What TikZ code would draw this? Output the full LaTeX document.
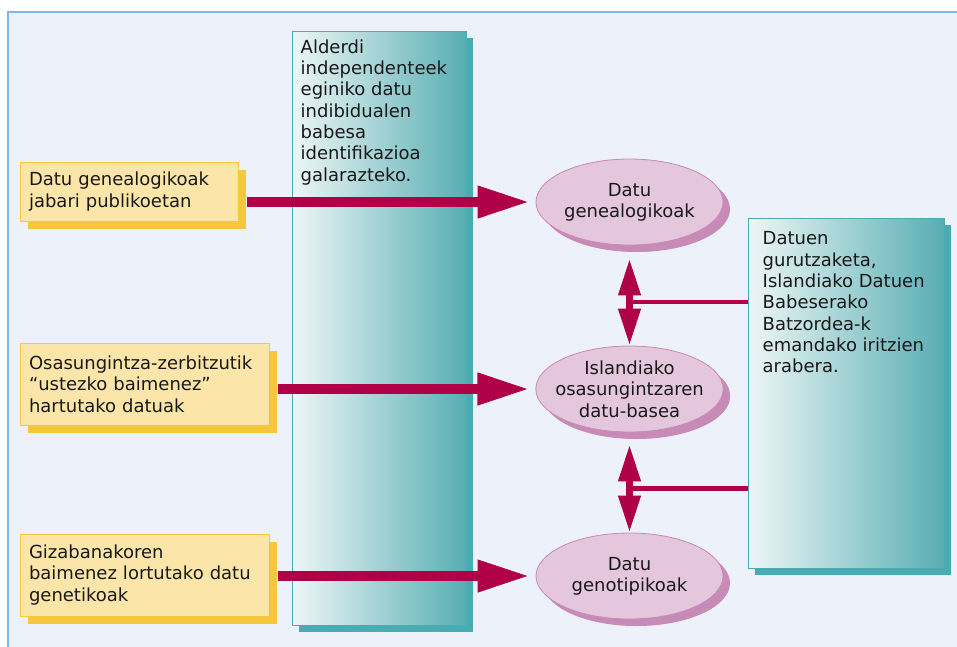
\documentclass[tikz,border=0pt]{standalone}
\usepackage{fontspec}
\setmainfont{DejaVu Sans}
\usepackage{tikz}
\usetikzlibrary{shapes.geometric, arrows.meta, shadows}
\definecolor{canvas}{RGB}{237,242,250}
\definecolor{frameblue}{RGB}{125,182,232}
\definecolor{crimson}{RGB}{176,0,72}
\definecolor{sand}{RGB}{252,229,168}
\definecolor{gold}{RGB}{245,200,60}
\definecolor{mauve}{RGB}{228,198,221}
\definecolor{mauvedark}{RGB}{200,138,182}
\definecolor{tealpale}{RGB}{238,246,246}
\definecolor{tealmid}{RGB}{172,214,216}
\definecolor{tealdark}{RGB}{88,174,179}
\definecolor{tealedge}{RGB}{72,172,178}
\definecolor{ink}{RGB}{25,25,25}
\tikzset{
    txt/.style={font=\fontsize{18}{21.3}\selectfont, text=ink},
    source/.style={rectangle, draw=gold, line width=1pt, fill=sand, inner xsep=9pt, inner ysep=0pt, align=left, txt, drop shadow={shadow xshift=8pt, shadow yshift=-8pt, fill=gold, opacity=1}},
    panel/.style={rectangle, draw=tealedge, line width=1pt, left color=tealpale, middle color=tealmid, right color=tealdark, inner sep=0pt, drop shadow={shadow xshift=7pt, shadow yshift=-7pt, fill=tealedge, opacity=1}},
    note/.style={anchor=north west, inner sep=0pt, align=left, txt},
    store/.style={ellipse, draw=mauvedark, line width=0.8pt, fill=mauve, minimum width=187pt, minimum height=86pt, inner sep=-8pt, align=center, txt, drop shadow={shadow xshift=7pt, shadow yshift=-7pt, fill=mauvedark, opacity=1}},
    bar/.style={line width=10pt, draw=crimson, -{Triangle[length=52pt, width=30pt]}, shorten <=8pt, shorten >=6pt},
    dbl/.style={line width=7pt, draw=crimson, {Triangle[length=37pt, width=21pt]}-{Triangle[length=37pt, width=21pt]}},
    link/.style={line width=4.5pt, draw=crimson}
}

\begin{document}
\begin{tikzpicture}[x=1pt, y=-1pt]
    \useasboundingbox (0,0) rectangle (957,646);
    \fill[white] (0,0) rectangle (957,646);
    \draw[fill=canvas, draw=frameblue, line width=1.2pt] (8,12) rectangle (975,660);

    % Protection panel
    \node[panel, minimum width=174pt, minimum height=594pt] (indep) at (379,328) {};
    \node[note] (indeptxt) at ([xshift=9pt, yshift=-9pt]indep.north west) {%
        Alderdi\\ independenteek\\ eginiko datu\\ indibidualen\\ babesa\\ identifikazioa\\ galarazteko.};

    % Data sources
    \node[source, text width=200pt, minimum height=59pt] (b1) at (129,191.5) {Datu genealogikoak\\ jabari publikoetan};
    \node[source, text width=231pt, minimum height=82pt] (b2) at (144.5,384) {Osasungintza-zerbitzutik\\ “ustezko baimenez”\\ hartutako datuak};
    \node[source, text width=231pt, minimum height=82pt] (b3) at (144.5,575) {Gizabanakoren\\ baimenez lortutako datu\\ genetikoak};

    % Cross-check panel
    \node[panel, minimum width=196pt, minimum height=350pt] (crit) at (846,393) {};
    \node[note] (crittxt) at ([xshift=15pt, yshift=-14pt]crit.north west) {%
        Datuen\\ gurutzaketa,\\ Islandiako Datuen\\ Babeserako\\ Batzordea-k\\ emandako iritzien\\ arabera.};

    % Databases
    \node[store] (e1) at (629.5,202) {Datu\\ genealogikoak};
    \node[store] (e2) at (629.5,389) {Islandiako\\ osasungintzaren\\ datu-basea};
    \node[store] (e3) at (629.5,576) {Datu\\ genotipikoak};

    % Flows
    \draw[bar] (b1.east |- e1) -- (e1.west);
    \draw[bar] (b2.east |- e2) -- (e2.west);
    \draw[bar] (b3.east |- e3) -- (e3.west);

    \draw[dbl] ([yshift=-13pt]e1.south) -- coordinate[midway] (m1) (e2.north);
    \draw[dbl] ([yshift=-12pt]e2.south) -- coordinate[midway] (m2) (e3.north);
    \draw[link] (crit.west |- m1) -- (m1);
    \draw[link] (crit.west |- m2) -- (m2);
\end{tikzpicture}
\end{document}
